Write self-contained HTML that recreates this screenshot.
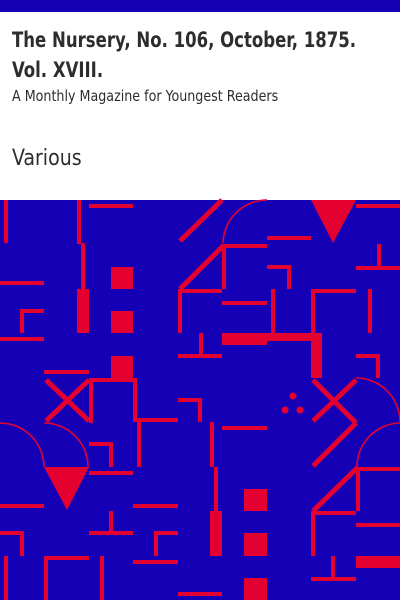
<!DOCTYPE html>
<html><head><meta charset="utf-8">
<style>
html,body{margin:0;padding:0;width:400px;height:600px;overflow:hidden;background:#fff}
.wrap{position:relative;width:400px;height:600px}
.t{position:absolute;left:12px;color:#2d2d2d;font-family:"DejaVu Sans Condensed","DejaVu Sans","Liberation Sans",sans-serif;white-space:nowrap;transform-origin:0 0}
</style></head><body>
<div class="wrap">
<svg width="400" height="600" style="position:absolute;left:0;top:0">
<rect x="0" y="0" width="400" height="12" fill="#1500b6"/>
<rect x="0" y="200" width="400" height="400" fill="#1500b6"/>
<g fill="#e4002f">
<rect x="4" y="200" width="4" height="43"/>
<rect x="77" y="200" width="4" height="44"/><rect x="81" y="243" width="4" height="46"/><rect x="77" y="289" width="12" height="44"/>
<rect x="89" y="204" width="44" height="4"/>
<rect x="111" y="267" width="22" height="22"/><rect x="111" y="311" width="22" height="22"/><rect x="111" y="356" width="22" height="22"/>
<rect x="0" y="281" width="44" height="4"/>
<rect x="20" y="309" width="4" height="24"/><rect x="20" y="309" width="24" height="4"/>
<rect x="0" y="337" width="44" height="4"/>
<rect x="44" y="370" width="45" height="4"/>
<rect x="89" y="378" width="48" height="4"/><rect x="89" y="378" width="4" height="45"/><rect x="133" y="378" width="4" height="44"/>
<rect x="137" y="418" width="41" height="4"/><rect x="137" y="418" width="4" height="49"/>
<rect x="222" y="244" width="45" height="4"/><rect x="222" y="244" width="4" height="45"/>
<rect x="178" y="289" width="44" height="4"/><rect x="178" y="289" width="4" height="44"/>
<rect x="267" y="236" width="44" height="4"/>
<polygon points="311,200 356,200 333,243"/>
<rect x="356" y="204" width="44" height="4"/>
<rect x="377" y="244" width="4" height="23"/><rect x="356" y="266" width="44" height="4"/>
<rect x="267" y="265" width="24" height="4"/><rect x="287" y="265" width="4" height="24"/>
<rect x="271" y="289" width="4" height="44"/>
<rect x="222" y="301" width="45" height="4"/>
<rect x="311" y="289" width="45" height="4"/><rect x="311" y="289" width="4" height="44"/>
<rect x="368" y="289" width="4" height="44"/>
<rect x="222" y="333" width="45" height="12"/><rect x="267" y="333" width="55" height="8"/><rect x="311" y="333" width="11" height="45"/>
<rect x="199" y="333" width="4" height="23"/><rect x="178" y="354" width="44" height="4"/>
<rect x="356" y="354" width="24" height="4"/><rect x="376" y="354" width="4" height="24"/>
<circle cx="293" cy="396" r="3.5"/><circle cx="285" cy="410" r="3.5"/><circle cx="300" cy="410" r="3.5"/>
<rect x="178" y="398" width="24" height="4"/><rect x="198" y="398" width="4" height="24"/>
<polygon points="44,467 89,467 67,510"/>
<rect x="89" y="442" width="24" height="4"/><rect x="109" y="442" width="4" height="25"/>
<rect x="89" y="471" width="44" height="4"/>
<rect x="0" y="504" width="44" height="4"/>
<rect x="133" y="504" width="45" height="4"/>
<rect x="109" y="511" width="4" height="22"/><rect x="89" y="531" width="44" height="4"/>
<rect x="0" y="531" width="24" height="4"/><rect x="20" y="531" width="4" height="25"/>
<rect x="154" y="531" width="24" height="4"/><rect x="154" y="531" width="4" height="25"/>
<rect x="133" y="560" width="45" height="4"/>
<rect x="4" y="556" width="4" height="44"/>
<rect x="44" y="556" width="45" height="4"/><rect x="44" y="556" width="4" height="44"/>
<rect x="100" y="556" width="4" height="44"/>
<rect x="178" y="592" width="44" height="4"/>
<rect x="210" y="422" width="4" height="45"/><rect x="214" y="467" width="4" height="44"/><rect x="210" y="511" width="12" height="45"/>
<rect x="222" y="426" width="45" height="4"/>
<rect x="244" y="489" width="23" height="22"/><rect x="244" y="533" width="23" height="23"/><rect x="244" y="578" width="23" height="22"/>
<rect x="356" y="467" width="44" height="4"/><rect x="356" y="467" width="4" height="44"/>
<rect x="311" y="511" width="45" height="4"/><rect x="311" y="511" width="4" height="45"/>
<rect x="356" y="523" width="44" height="4"/>
<rect x="356" y="556" width="44" height="12"/>
<rect x="331" y="556" width="4" height="22"/><rect x="311" y="577" width="45" height="4"/>
</g>
<g stroke="#e4002f" fill="none">
<g stroke-width="5">
<line x1="180" y1="241" x2="222" y2="200"/>
<line x1="180" y1="289" x2="224" y2="245"/>
<line x1="46" y1="380" x2="89" y2="421"/>
<line x1="89" y1="380" x2="46" y2="421"/>
<line x1="313" y1="380" x2="356" y2="423"/>
<line x1="356" y1="380" x2="313" y2="421"/>
<line x1="356" y1="423" x2="313" y2="466"/>
<line x1="313" y1="511" x2="358" y2="467"/>
</g>
<g stroke-width="1.6">
<path d="M223,243 A44,44 0 0 1 267,200"/>
<path d="M356,378 A44,44 0 0 1 400,422"/>
<path d="M0,423 A44,44 0 0 1 44,467"/>
<path d="M44,423 A44,44 0 0 1 88,467"/>
<path d="M357,467 A44,44 0 0 1 400,423"/>
</g>
</g>
</svg>
<div class="t" style="top:25px;font-size:21px;font-weight:bold;line-height:30px;transform:scaleX(0.875)">The Nursery, No. 106, October, 1875.<br>Vol. XVIII.</div>
<div class="t" style="top:87px;font-size:15px;transform:scaleX(0.94)">A Monthly Magazine for Youngest Readers</div>
<div class="t" style="top:146px;font-size:22px;transform:scaleX(0.96)">Various</div>
</div>
</body></html>
